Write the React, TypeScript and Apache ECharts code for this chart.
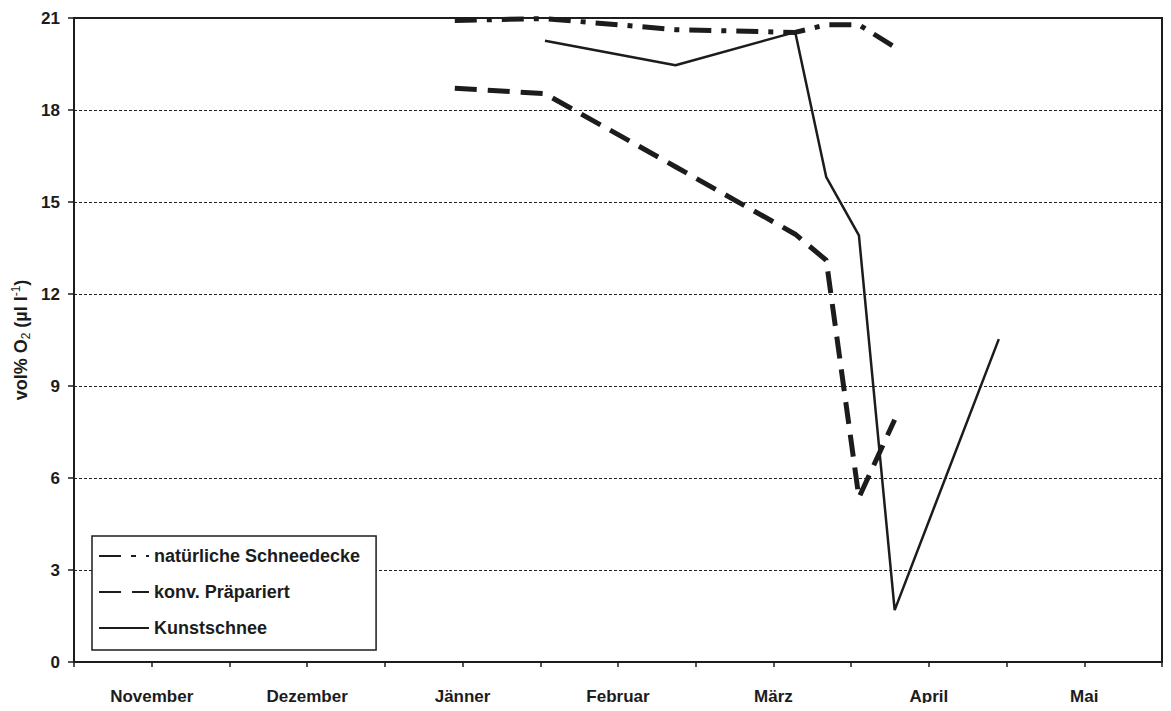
import React, { useEffect, useRef } from "react";
import * as echarts from "echarts";

// Month categories (each month spans one unit on the x axis, label at its centre)
const months = ["November", "Dezember", "Jänner", "Februar", "März", "April", "Mai"];
const yTicks = [0, 3, 6, 9, 12, 15, 18, 21];

// Measurement positions (in months from 1 November) and values (vol% O2)
const naturX = [2.45, 3.03, 3.87, 4.64, 4.84, 5.05, 5.28];
const naturY = [20.92, 20.98, 20.62, 20.53, 20.78, 20.78, 20.05];

const konvX = [2.45, 3.03, 3.87, 4.64, 4.84, 5.05, 5.28];
const konvY = [18.71, 18.53, 16.15, 13.95, 13.1, 5.36, 7.9];

const kunstX = [3.03, 3.87, 4.64, 4.84, 5.05, 5.28, 5.95];
const kunstY = [20.26, 19.46, 20.54, 15.81, 13.91, 1.69, 10.53];

const seriesNames = ["natürliche Schneedecke", "konv. Präpariert", "Kunstschnee"];

const zip = (xs: number[], ys: number[]) => xs.map((x, i) => [x, ys[i]]);

const FONT = "'Liberation Sans', Arial, sans-serif";
const INK = "#1c1c1c";

export default function App() {
  const ref = useRef<HTMLDivElement>(null);
  useEffect(() => {
    if (!ref.current) return;
    const chart = echarts.init(ref.current, undefined, { renderer: "svg" });
    chart.setOption({
      animation: false,
      backgroundColor: "#ffffff",
      grid: {
        left: 74,
        right: 9,
        top: 18,
        bottom: 49,
        show: true,
        borderColor: INK,
        borderWidth: 2,
        backgroundColor: "transparent",
      },
      xAxis: {
        type: "value",
        min: 0,
        max: months.length,
        interval: 0.5,
        axisLine: { show: true, lineStyle: { color: INK, width: 2 } },
        axisTick: { show: true, length: 5, lineStyle: { color: INK, width: 1.5 } },
        splitLine: { show: false },
        axisLabel: {
          margin: 26,
          fontFamily: FONT,
          fontWeight: "bold",
          fontSize: 17,
          color: INK,
          showMinLabel: true,
          showMaxLabel: true,
          formatter: (v: number) => {
            const k = Math.floor(v);
            return Math.abs(v - k - 0.5) < 1e-6 && months[k] ? months[k] : "";
          },
        },
      },
      yAxis: {
        type: "value",
        min: yTicks[0],
        max: yTicks[yTicks.length - 1],
        interval: 3,
        axisLine: { show: true, lineStyle: { color: INK, width: 2 } },
        axisTick: { show: true, length: 6, lineStyle: { color: INK, width: 1.5 } },
        splitLine: { show: true, lineStyle: { color: "#222", width: 1, type: [3, 2] } },
        axisLabel: {
          margin: 14,
          fontFamily: FONT,
          fontWeight: "bold",
          fontSize: 17,
          color: INK,
        },
      },
      legend: {
        orient: "vertical",
        left: 92,
        top: 536,
        data: seriesNames,
        padding: [10, 16, 12, 6],
        itemWidth: 50,
        itemHeight: 20,
        itemGap: 16,
        backgroundColor: "#ffffff",
        borderColor: INK,
        borderWidth: 1.5,
        borderRadius: 0,
        itemStyle: { opacity: 0 },
        textStyle: {
          fontFamily: FONT,
          fontWeight: "bold",
          fontSize: 18,
          lineHeight: 20,
          color: INK,
        },
        z: 10,
      },
      graphic: [
        {
          type: "text",
          x: 21,
          y: 340,
          rotation: Math.PI / 2,
          style: {
            text: "{a|vol% O}{sub|2}{a| (µl l}{sup|-1}{a|)}",
            align: "center",
            verticalAlign: "middle",
            rich: {
              a: { fontFamily: FONT, fontWeight: "bold", fontSize: 18, lineHeight: 22, fill: INK, verticalAlign: "middle" },
              sub: { fontFamily: FONT, fontWeight: "normal", fontSize: 12, lineHeight: 12, fill: INK, verticalAlign: "bottom" },
              sup: { fontFamily: FONT, fontWeight: "normal", fontSize: 12, lineHeight: 12, fill: INK, verticalAlign: "top" },
            },
          },
        },
      ],
      series: [
        {
          name: seriesNames[0],
          type: "line",
          data: zip(naturX, naturY),
          symbol: "none",
          lineStyle: { color: INK, width: 5, type: [22, 10, 5, 10], cap: "butt" },
          z: 3,
        },
        {
          name: seriesNames[1],
          type: "line",
          data: zip(konvX, konvY),
          symbol: "none",
          lineStyle: { color: INK, width: 5, type: [22, 11], cap: "butt" },
          z: 3,
        },
        {
          name: seriesNames[2],
          type: "line",
          data: zip(kunstX, kunstY),
          symbol: "none",
          lineStyle: { color: INK, width: 2.5, type: "solid" },
          z: 4,
        },
      ],
    });
    return () => chart.dispose();
  }, []);
  return <div ref={ref} style={{ width: 1171, height: 711, margin: -8 }} />;
}
